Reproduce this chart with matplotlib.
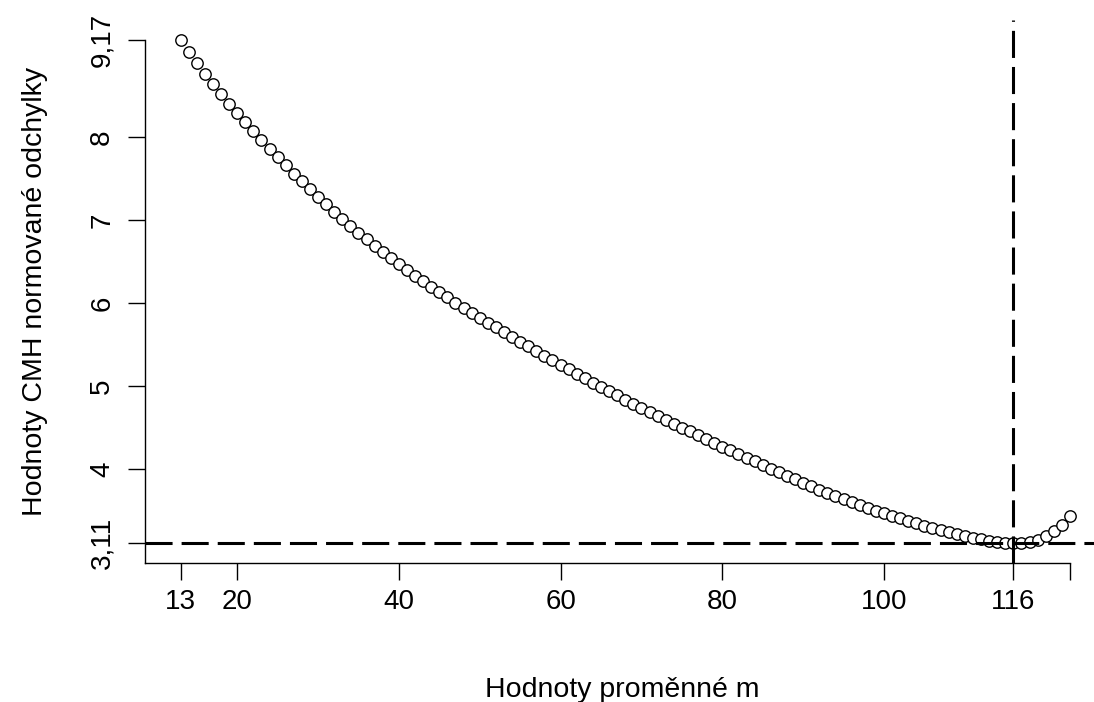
import matplotlib
matplotlib.use("Agg")
import matplotlib.pyplot as plt

plt.rcParams['font.family'] = ['Liberation Sans', 'DejaVu Sans']
plt.rcParams['lines.scale_dashes'] = False

# ---- data ----
m_values = list(range(13, 124))
cmh_values = [
    9.170, 9.030, 8.895, 8.765, 8.640, 8.520, 8.403, 8.290, 8.180, 8.072,
    7.966, 7.862, 7.760, 7.660, 7.562, 7.466, 7.372, 7.280, 7.190, 7.102,
    7.016, 6.932, 6.850, 6.770, 6.692, 6.616, 6.542, 6.470, 6.400, 6.332,
    6.265, 6.199, 6.134, 6.070, 6.007, 5.945, 5.884, 5.824, 5.765, 5.707,
    5.650, 5.592, 5.535, 5.478, 5.422, 5.366, 5.311, 5.256, 5.202, 5.148,
    5.095, 5.042, 4.990, 4.938, 4.887, 4.837, 4.787, 4.738, 4.689, 4.641,
    4.593, 4.546, 4.499, 4.453, 4.407, 4.361, 4.316, 4.271, 4.226, 4.181,
    4.137, 4.093, 4.049, 4.006, 3.963, 3.920, 3.878, 3.836, 3.794, 3.753,
    3.712, 3.672, 3.635, 3.599, 3.564, 3.530, 3.497, 3.465, 3.434, 3.404,
    3.375, 3.346, 3.318, 3.291, 3.264, 3.238, 3.213, 3.191, 3.171, 3.153,
    3.137, 3.124, 3.114, 3.108, 3.112, 3.125, 3.150, 3.190, 3.250, 3.330,
    3.430,
]
best_m = 116
min_value = 3.11
max_value = 9.17

x_ticks = [13, 20, 40, 60, 80, 100, 116, 123]
x_tick_labels = ['13', '20', '40', '60', '80', '100', '116', '']
y_ticks = [3.11, 4, 5, 6, 7, 8, 9.17]
y_tick_labels = ['3,11', '4', '5', '6', '7', '8', '9,17']

x_title = 'Hodnoty proměnné m'
y_title = 'Hodnoty CMH normované odchylky'

# ---- figure ----
W, H = 1094, 702
fig = plt.figure(figsize=(W / 100, H / 100), dpi=100)
left_px, right_px, top_px, bottom_px = 145, 1105.5, 20, 563
ax = fig.add_axes([left_px / W, 1 - bottom_px / H,
                   (right_px - left_px) / W, (bottom_px - top_px) / H])

xr = max(m_values) - min(m_values)
x_lo, x_hi = min(m_values) - 0.04 * xr, max(m_values) + 0.04 * xr
yr = max_value - min_value
y_lo, y_hi = min_value - 0.04 * yr, max_value + 0.04 * yr
ax.set_xlim(x_lo, x_hi)
ax.set_ylim(y_lo, y_hi)

ax.plot(m_values, cmh_values, linestyle='none', marker='o', markersize=8.2,
        markerfacecolor='white', markeredgecolor='black', markeredgewidth=1.0,
        zorder=2)

dash = (19.5, 6.5)
ax.axhline(min_value, color='black', linewidth=2.2, dashes=dash, zorder=3)
ax.axvline(best_m, color='black', linewidth=2.2, dashes=dash, zorder=3)

for s in ['top', 'right']:
    ax.spines[s].set_visible(False)
ax.spines['left'].set_bounds(y_lo, max_value)
ax.spines['bottom'].set_bounds(x_lo, max(x_ticks))
for s in ['left', 'bottom']:
    ax.spines[s].set_linewidth(1.0)
    ax.spines[s].set_color('black')

ax.set_xticks(x_ticks)
ax.set_xticklabels(x_tick_labels, fontsize=20)
ax.set_yticks(y_ticks)
ax.set_yticklabels(y_tick_labels, fontsize=20, rotation=90, va='center')
ax.tick_params(axis='both', direction='out', length=12.5, width=1.0, color='black')
ax.tick_params(axis='x', pad=6.5)
ax.tick_params(axis='y', pad=9)

fig.text(622 / W, 1 - 690 / H, x_title, ha='center', va='center', fontsize=20.5)
fig.text(35 / W, 1 - 291.5 / H, y_title, ha='center', va='center',
         rotation=90, fontsize=20.5)

fig.savefig('out.png', dpi=100)
